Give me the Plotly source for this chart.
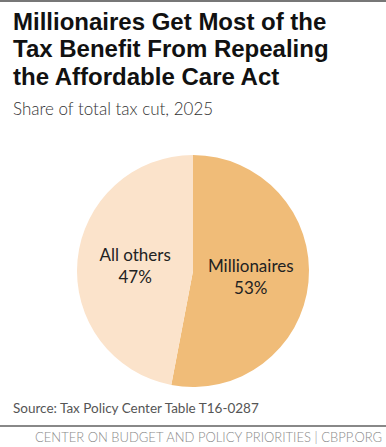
import plotly.graph_objects as go

categories = ["Millionaires", "All others"]
shares = [53, 47]
colors = ["#f0bc78", "#fbe3cb"]

title_lines = ["Millionaires Get Most of the", "Tax Benefit From Repealing", "the Affordable Care Act"]
subtitle = "Share of total tax cut, 2025"
source = "Source: Tax Policy Center Table T16-0287"
footer = "CENTER ON BUDGET AND POLICY PRIORITIES | CBPP.ORG"

W, H = 386, 447

fig = go.Figure(go.Pie(
    labels=categories,
    values=shares,
    marker=dict(colors=colors, line=dict(width=0)),
    sort=False,
    direction="clockwise",
    rotation=0,
    texttemplate="%{label}<br>%{percent:.0%}",
    textposition="inside",
    insidetextorientation="horizontal",
    textfont=dict(family="Lato", size=17, color="#222222"),
    hoverinfo="label+percent",
    showlegend=False,
    domain=dict(x=[(193 - 116) / W, (193 + 116) / W], y=[1 - 387 / H, 1 - 155 / H]),
))

annotations = []
for i, line in enumerate(title_lines):
    annotations.append(dict(
        text=line, x=11 / W, y=1 - (22 + 27 * i) / H, xref="paper", yref="paper",
        xanchor="left", yanchor="middle", showarrow=False,
        font=dict(family="Liberation Sans", size=24, color="#111111", weight="bold")))
annotations.append(dict(
    text=subtitle, x=11 / W, y=1 - 108 / H, xref="paper", yref="paper",
    xanchor="left", yanchor="middle", showarrow=False,
    font=dict(family="Lato", size=17, color="#333333", weight=300)))
annotations.append(dict(
    text=source, x=11 / W, y=1 - 408 / H, xref="paper", yref="paper",
    xanchor="left", yanchor="middle", showarrow=False,
    font=dict(family="Lato", size=13.5, color="#555555")))
annotations.append(dict(
    text=footer, x=1 - 2 / W, y=1 - 437 / H, xref="paper", yref="paper",
    xanchor="right", yanchor="middle", showarrow=False,
    font=dict(family="Lato", size=13, color="#8a8a8a", weight=300)))

shapes = [
    dict(type="line", xref="paper", yref="paper", x0=0, x1=1, y0=1 - 1 / H, y1=1 - 1 / H,
         line=dict(color="#777777", width=2)),
    dict(type="line", xref="paper", yref="paper", x0=0, x1=1, y0=1 - 426 / H, y1=1 - 426 / H,
         line=dict(color="#888888", width=2)),
]

fig.update_layout(
    width=W, height=H,
    margin=dict(l=0, r=0, t=0, b=0),
    paper_bgcolor="white", plot_bgcolor="white",
    annotations=annotations, shapes=shapes,
)

fig.write_html("out.html", config={"displayModeBar": False},
               post_script="document.body.style.margin='0';document.body.style.overflow='hidden';")
